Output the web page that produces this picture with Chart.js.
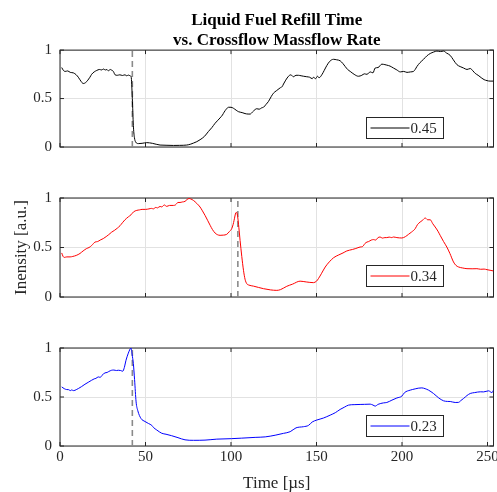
<!DOCTYPE html>
<html><head><meta charset="utf-8">
<script src="https://cdn.jsdelivr.net/npm/chart.js@4.4.0/dist/chart.umd.min.js"></script>
<style>
html,body{margin:0;padding:0;background:#fff;width:497px;height:492px;overflow:hidden;}
canvas{position:absolute;left:0;}
</style></head><body>
<canvas id="c1" width="497" height="160" style="top:0px;width:497px;height:160px"></canvas>
<canvas id="c2" width="497" height="160" style="top:150px;width:497px;height:160px"></canvas>
<canvas id="c3" width="497" height="194" style="top:300px;width:497px;height:194px"></canvas>
<script>
// ---------- data ----------
const time045 = [1,2,3,4.5,6,7.8,9.5,10.7,12.2,13.6,15,16.3,17.5,18.5,20,21.5,23,24.5,25.3,26.5,27.5,28.3,29.3,30,31.2,32.2,33.5,35,36.5,38,39,40,41,41.6,42.3,42.9,43.5,44.3,45.8,48,50.7,54,58.5,62,66.3,70,74.1,76.5,78,80,81.9,84.5,86.8,88.8,90.7,92,93.6,95,96,97.2,98.5,100,101.4,103,104.3,106.5,108.2,110,111.2,112.5,114,115,116.5,118,119,120.5,121.9,123.5,124.8,126.5,128.7,130,130.7,132,133.6,135,136.5,138,139.4,141,142.5,144.3,146,147.5,148.2,149.5,150.5,151.5,153.1,154.5,156,157.8,159.9,161.8,163.8,165.5,166.8,168.2,169.7,172,174.5,176.5,178,179.5,181.4,183,184.3,186,188.2,190,191.1,193,195,197,199,201,202.9,205,206.7,207.7,208.7,210.5,212.6,214.5,216.5,218.5,220.4,222.5,224.3,226,228.2,230,232.1,234,236,238,239.9,241.5,242.8,244.5,246.7,248,249.7,251.5,253.5];
const intensity045 = [0.82,0.79,0.78,0.785,0.77,0.765,0.745,0.72,0.68,0.655,0.665,0.69,0.72,0.75,0.775,0.79,0.8,0.795,0.805,0.795,0.8,0.785,0.8,0.795,0.78,0.745,0.74,0.745,0.738,0.745,0.735,0.742,0.735,0.725,0.5,0.22,0.1,0.05,0.035,0.038,0.045,0.038,0.02,0.018,0.016,0.017,0.02,0.03,0.04,0.055,0.075,0.11,0.16,0.2,0.245,0.27,0.3,0.33,0.36,0.39,0.41,0.41,0.4,0.38,0.365,0.355,0.345,0.34,0.34,0.36,0.385,0.395,0.39,0.405,0.41,0.44,0.47,0.52,0.555,0.58,0.61,0.625,0.65,0.69,0.73,0.745,0.725,0.74,0.74,0.735,0.73,0.725,0.72,0.705,0.72,0.705,0.73,0.715,0.745,0.79,0.84,0.885,0.905,0.9,0.89,0.86,0.83,0.8,0.78,0.75,0.73,0.74,0.755,0.75,0.775,0.765,0.815,0.82,0.855,0.85,0.845,0.835,0.815,0.795,0.775,0.78,0.77,0.775,0.78,0.8,0.83,0.87,0.905,0.94,0.965,0.98,0.99,0.985,0.99,0.97,0.945,0.9,0.85,0.83,0.815,0.8,0.81,0.785,0.76,0.74,0.71,0.695,0.685,0.68,0.68];

const time034 = [1,1.8,2.5,4,5.9,7.5,9.5,11.7,13.5,15.6,17,18.5,20.5,22,23.5,25.3,27,28.5,30.2,32,33.5,35.1,36.5,38,40,41.5,43,44.9,46.5,48,50.1,52,53.5,54.6,56,57,58.5,59.5,61,62.4,64,66.3,67.5,69,70.2,71.5,73.1,74.3,75.5,76.5,78,80,81.9,83.3,84.8,86.3,87.8,89.2,90.7,92,93.6,95.5,97.5,99,100.4,101.2,101.8,102.8,103.3,103.9,104.6,105.3,106.3,107.3,108.2,109.2,110.5,113.1,116,119,123,126.8,129,132.6,136,140.4,144,148.2,150,151.1,153,155.1,157.5,160,163,165.5,167.7,171,173,175.5,177,178.3,179.5,180.5,182,183.4,184.5,186,187.2,188.5,190,191.1,192.5,194,195,197,199.9,202,203.8,205.5,207.7,209,210.6,212,213.6,215,216.5,218,219.4,221,222.3,224.3,226.2,228,230.1,231.5,233.1,235.5,238,241,243.8,246,248,249.7,251.5,253.5];
const intensity034 = [0.445,0.41,0.4,0.405,0.405,0.41,0.42,0.44,0.465,0.49,0.5,0.52,0.555,0.56,0.575,0.59,0.61,0.63,0.655,0.675,0.695,0.72,0.75,0.78,0.81,0.83,0.86,0.875,0.88,0.885,0.885,0.89,0.895,0.89,0.905,0.9,0.915,0.91,0.93,0.915,0.925,0.925,0.93,0.955,0.955,0.96,0.966,0.985,0.995,0.99,0.976,0.945,0.909,0.87,0.825,0.775,0.724,0.68,0.646,0.63,0.623,0.625,0.633,0.66,0.69,0.73,0.775,0.85,0.855,0.81,0.7,0.572,0.41,0.27,0.18,0.135,0.12,0.11,0.097,0.084,0.072,0.067,0.075,0.108,0.13,0.16,0.152,0.145,0.16,0.185,0.24,0.303,0.355,0.397,0.425,0.445,0.465,0.48,0.49,0.505,0.51,0.54,0.555,0.56,0.575,0.58,0.575,0.6,0.606,0.595,0.6,0.6,0.605,0.6,0.606,0.6,0.596,0.61,0.633,0.655,0.69,0.73,0.757,0.775,0.798,0.78,0.78,0.74,0.707,0.665,0.623,0.56,0.505,0.44,0.354,0.32,0.303,0.293,0.286,0.285,0.286,0.28,0.282,0.276,0.27,0.263];

const time023 = [1,2.5,3.9,5,6,6.8,8,9.5,10.7,12.5,14.6,16.5,18.5,20,21,22.4,23.5,24.5,26.3,27.5,28.5,30.2,31.5,33,34.1,35.5,36.7,37.6,38.6,39.8,41,41.5,42.2,42.9,43.6,44.5,45.5,47.4,49.7,51.7,53.7,54.6,56.6,59.5,62,65.3,69,73.1,78,84.8,91.7,100.4,106,114.1,120,125.8,130.7,134.6,138,142.4,145.3,147.5,150.2,154,158,161,163.8,166.5,168.7,172,175.5,178,181.4,183,184.3,186,189.2,191.1,194.1,197,199.9,201.5,204.8,207.7,209.5,211.6,213.5,215.5,218.4,221.5,224.3,226.5,228.2,231.1,233,234.5,236,238,239.9,242.5,245.8,247.7,250.6,252.6,253.5];
const intensity023 = [0.603,0.585,0.576,0.575,0.565,0.572,0.565,0.575,0.586,0.605,0.63,0.65,0.671,0.685,0.69,0.705,0.7,0.72,0.746,0.75,0.76,0.773,0.775,0.77,0.773,0.77,0.763,0.8,0.875,0.94,0.99,1.0,0.93,0.84,0.68,0.45,0.36,0.28,0.25,0.23,0.21,0.19,0.163,0.13,0.12,0.105,0.085,0.063,0.058,0.06,0.07,0.075,0.08,0.088,0.093,0.11,0.129,0.146,0.185,0.197,0.21,0.245,0.265,0.285,0.315,0.34,0.373,0.398,0.417,0.422,0.424,0.425,0.427,0.418,0.407,0.425,0.44,0.444,0.468,0.49,0.509,0.545,0.57,0.583,0.59,0.593,0.585,0.57,0.536,0.49,0.461,0.455,0.454,0.444,0.445,0.465,0.485,0.515,0.536,0.545,0.553,0.552,0.563,0.545,0.57];

const seriesLabels = ['0.45', '0.34', '0.23'];
const seriesColors = ['#000000', '#ff0000', '#0000ff'];
const breakupTimes = [42.3, 104, 42.3];
const xTicks = [0, 50, 100, 150, 200, 250];
const yTicks = [0, 0.5, 1];
const xMin = 0, xMax = 253.5;
const titleLines = ['Liquid Fuel Refill Time', 'vs. Crossflow Massflow Rate'];
const xTitle = 'Time [µs]';
const yTitle = 'Inensity [a.u.]';

const allTimes = [time045, time034, time023];
const allValues = [intensity045, intensity034, intensity023];

// ---------- drawing ----------
const FONT = "'Liberation Serif', 'Times New Roman', serif";
const AXIS = '#262626';
Chart.defaults.font.family = FONT;

const framePlugin = {
  id: 'frame',
  beforeDatasetsDraw(chart) {
    const {ctx, chartArea: a, scales: {x, y}} = chart;
    ctx.save();
    ctx.strokeStyle = AXIS;
    ctx.lineWidth = 1;
    ctx.beginPath();
    x.ticks.forEach(t => {
      const px = x.getPixelForValue(t.value);
      ctx.moveTo(px, a.bottom); ctx.lineTo(px, a.bottom - 4);
      ctx.moveTo(px, a.top); ctx.lineTo(px, a.top + 4);
    });
    y.ticks.forEach(t => {
      const py = y.getPixelForValue(t.value);
      ctx.moveTo(a.left, py); ctx.lineTo(a.left + 4, py);
      ctx.moveTo(a.right, py); ctx.lineTo(a.right - 4, py);
    });
    ctx.stroke();
    ctx.strokeRect(a.left, a.top, a.right - a.left, a.bottom - a.top);
    ctx.restore();
  },
  afterDraw(chart, args, opts) {
    const {ctx, chartArea: a} = chart;
    const bx = Math.round(a.left + 306) + 0.5, by = Math.round(a.top + 67) + 0.5;
    const bw = 77, bh = 21;
    ctx.save();
    ctx.fillStyle = '#ffffff';
    ctx.fillRect(bx, by, bw, bh);
    ctx.strokeStyle = AXIS;
    ctx.lineWidth = 1;
    ctx.strokeRect(bx, by, bw, bh);
    ctx.strokeStyle = opts.color;
    ctx.beginPath();
    ctx.moveTo(bx + 4, by + bh / 2);
    ctx.lineTo(bx + 43, by + bh / 2);
    ctx.stroke();
    ctx.fillStyle = AXIS;
    ctx.font = '15px ' + FONT;
    ctx.textBaseline = 'middle';
    ctx.textAlign = 'left';
    ctx.fillText(opts.label, bx + 44, by + bh / 2 + 1);
    ctx.restore();
  }
};

function makeChart(id, idx) {
  const pts = allTimes[idx].map((t, i) => ({x: t, y: allValues[idx][i]}));
  const isBottom = idx === 2;
  return new Chart(document.getElementById(id), {
    type: 'line',
    data: {
      datasets: [
        {data: pts, borderColor: seriesColors[idx], borderWidth: 1, pointRadius: 0,
         cubicInterpolationMode: 'monotone', fill: false},
        {data: [{x: breakupTimes[idx], y: 0}, {x: breakupTimes[idx], y: 1}],
         borderColor: '#8a8a8a', borderWidth: 1.6, borderDash: [6, 4], pointRadius: 0, fill: false}
      ]
    },
    options: {
      responsive: false,
      animation: false,
      devicePixelRatio: 1,
      events: [],
      layout: {padding: {left: 0, right: 3.5, top: idx === 0 ? 0 : 48, bottom: isBottom ? 0 : 13}},
      plugins: {
        legend: {display: false},
        tooltip: {enabled: false},
        title: {
          display: idx === 0,
          text: titleLines,
          color: '#000',
          fullSize: false,
          font: {family: FONT, size: 17, weight: 'bold', lineHeight: 1.15},
          padding: {top: 11, bottom: 0}
        },
        frame: {label: seriesLabels[idx], color: seriesColors[idx]}
      },
      scales: {
        x: {
          type: 'linear', min: xMin, max: xMax,
          afterBuildTicks: s => { s.ticks = xTicks.map(v => ({value: v})); },
          afterFit: s => { s.height = isBottom ? 48 : 0; s.paddingLeft = 0; s.paddingRight = 0; },
          grid: {color: '#e2e2e2', lineWidth: 1, drawTicks: false},
          border: {display: false},
          ticks: {display: isBottom, color: AXIS, font: {family: FONT, size: 15}, padding: 2,
                  maxRotation: 0, autoSkip: false},
          title: {display: isBottom, text: xTitle, color: AXIS,
                  font: {family: FONT, size: 17}, padding: {top: 0, bottom: 0}}
        },
        y: {
          type: 'linear', min: 0, max: 1,
          afterBuildTicks: s => { s.ticks = yTicks.map(v => ({value: v})); },
          afterFit: s => { s.width = 60; s.paddingTop = 0; s.paddingBottom = 0; },
          grid: {color: '#e2e2e2', lineWidth: 1, drawTicks: false},
          border: {display: false},
          ticks: {color: AXIS, font: {family: FONT, size: 15}, padding: 8,
                  callback: v => String(v)},
          title: {display: idx === 1, text: yTitle, color: AXIS,
                  font: {family: FONT, size: 17}, padding: {top: 11, bottom: 0}}
        }
      }
    },
    plugins: [framePlugin]
  });
}

makeChart('c1', 0);
makeChart('c2', 1);
makeChart('c3', 2);
</script>
</body></html>
